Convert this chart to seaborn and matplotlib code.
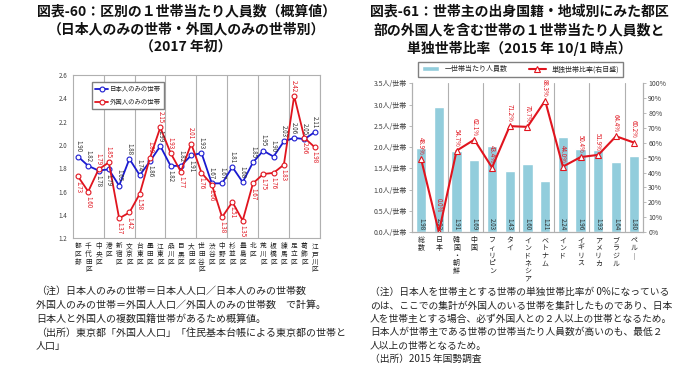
import numpy as np
import pandas as pd
import matplotlib
matplotlib.use('Agg')
import matplotlib.pyplot as plt
import seaborn as sns

sns.set_style('white')
plt.rcParams['font.family'] = ['Noto Sans CJK JP', 'DejaVu Sans']
plt.rcParams['axes.unicode_minus'] = False

# --- 図表-60 データ ---
wards = ['都区部', '千代田区', '中央区', '港区', '新宿区', '文京区', '台東区', '墨田区',
         '江東区', '品川区', '目黒区', '大田区', '世田谷区', '渋谷区', '中野区', '杉並区',
         '豊島区', '北区', '荒川区', '板橋区', '練馬区', '足立区', '葛飾区', '江戸川区']
jp_only = [1.90, 1.82, 1.78, 1.79, 1.65, 1.88, 1.74, 1.86, 1.99, 1.82, 1.82, 1.91,
           1.93, 1.67, 1.67, 1.81, 1.68, 1.85, 1.95, 1.90, 2.03, 2.06, 2.05, 2.11]
fr_only = [1.73, 1.60, 1.79, 1.85, 1.37, 1.42, 1.58, 1.89, 2.15, 1.93, 1.77, 2.01,
           1.76, 1.66, 1.38, 1.51, 1.35, 1.67, 1.75, 1.76, 1.83, 2.42, 2.06, 1.98]
jp_label_below = [2, 3, 7, 9, 11]
fr_label_above = [2, 3, 7, 8, 9, 11, 21]

# --- 図表-61 データ ---
countries = ['総数', '日本', '韓国・朝鮮', '中国', 'フィリピン', 'タイ', 'インドネシア',
             'ベトナム', 'インド', 'イギリス', 'アメリカ', 'ブラジル', 'ペルー']
persons = [1.98, 2.93, 1.91, 1.69, 2.03, 1.43, 1.60, 1.21, 2.24, 1.96, 1.93, 1.64, 1.80]
single_ratio = [48.9, 0.0, 54.7, 62.1, 43.4, 71.2, 70.7, 88.3, 44.0, 50.4, 51.9, 64.4, 60.2]

BLUE = '#1a1ad0'
RED = '#e0141e'
BAR = '#92cddc'
GRID = '#b0b0b0'
TXT = '#404040'

fig = plt.figure(figsize=(7, 3.75), dpi=100)

# ================= 左: 図表-60 =================
ax1 = fig.add_axes([0.104, 0.365, 0.353, 0.435])
df1 = pd.DataFrame({'x': np.arange(len(wards)), 'jp': jp_only, 'fr': fr_only})
sns.lineplot(data=df1, x='x', y='jp', ax=ax1, color=BLUE, lw=1.3, marker='o',
             markersize=3.5, markerfacecolor='white', markeredgecolor=BLUE,
             markeredgewidth=0.8, label='日本人のみの世帯')
sns.lineplot(data=df1, x='x', y='fr', ax=ax1, color=RED, lw=1.3, marker='o',
             markersize=3.5, markerfacecolor='white', markeredgecolor=RED,
             markeredgewidth=0.8, label='外国人のみの世帯')

for i, (a, b) in enumerate(zip(jp_only, fr_only)):
    below = i in jp_label_below
    ax1.annotate(f'{a:.2f}', (i, a), xytext=(0, -3 if below else 3), textcoords='offset points',
                 rotation=-90, ha='center', va='top' if below else 'bottom',
                 fontsize=4.5, color='#303030')
    above = i in fr_label_above
    ax1.annotate(f'{b:.2f}', (i, b), xytext=(0, 3 if above else -3), textcoords='offset points',
                 rotation=-90, ha='center', va='bottom' if above else 'top',
                 fontsize=4.5, color=RED)

for k in range(3, 25, 3):
    ax1.axvline(k - 0.5, color=GRID, lw=0.8, zorder=0)

ax1.set_xlim(-0.5, len(wards) - 0.5)
ax1.set_ylim(1.2, 2.6)
ax1.set_yticks(np.arange(1.2, 2.61, 0.2))
ax1.set_yticklabels([f'{v:.1f}' for v in np.arange(1.2, 2.61, 0.2)], fontsize=4.5, color=TXT)
ax1.set_xticks(np.arange(len(wards)))
ax1.set_xticklabels(['\n'.join(w) for w in wards], fontsize=4.8, linespacing=0.95, color='#202020')
ax1.tick_params(axis='x', length=0, pad=3)
ax1.tick_params(axis='y', length=2, width=0.6, color=GRID, pad=2)
ax1.set_xlabel('')
ax1.set_ylabel('')
for s in ax1.spines.values():
    s.set_color(GRID)
    s.set_linewidth(0.8)
ax1.legend(loc='upper left', bbox_to_anchor=(0.065, 0.975), fontsize=4.6, frameon=True,
           fancybox=False, edgecolor='#808080', framealpha=1, handlelength=2.0,
           handletextpad=0.3, borderpad=0.5, labelspacing=0.7)

# ================= 右: 図表-61 =================
ax2 = fig.add_axes([0.589, 0.381, 0.329, 0.397])
df2 = pd.DataFrame({'country': countries, 'persons': persons, 'ratio': single_ratio})
sns.barplot(data=df2, x='country', y='persons', ax=ax2, color=BAR, saturation=1,
            width=0.58, label='一世帯当たり人員数', zorder=2)
for i, v in enumerate(persons):
    ax2.text(i, 0.04, f'{v:.2f}', rotation=-90, ha='center', va='bottom',
             fontsize=4.5, color='#303030', zorder=3)
for k in range(2, 13, 2):
    ax2.axvline(k - 0.5, color=GRID, lw=0.8, zorder=0)

ax2.set_xlim(-0.5, len(countries) - 0.5)
ax2.set_ylim(0, 3.5)
yt = np.arange(0, 3.51, 0.5)
ax2.set_yticks(yt)
ax2.set_yticklabels([f'{v:.1f}人/世帯' for v in yt], fontsize=5, color=TXT)
ax2.set_xticks(np.arange(len(countries)))
ax2.set_xticklabels(['\n'.join(c.replace('ー', '｜')) for c in countries], fontsize=5,
                    linespacing=0.95, color='#202020')
ax2.tick_params(axis='x', length=0, pad=3)
ax2.tick_params(axis='y', length=2, width=0.6, color=GRID, pad=2)
ax2.set_xlabel('')
ax2.set_ylabel('')

ax3 = ax2.twinx()
sns.lineplot(data=df2, x=np.arange(len(countries)), y='ratio', ax=ax3, color=RED, lw=1.5,
             marker='^', markersize=4, markerfacecolor='white', markeredgecolor=RED,
             markeredgewidth=0.8, label='単独世帯比率(右目盛)')
for i, v in enumerate(single_ratio):
    # 日本(0.0%)のラベルは棒のラベルと重ならないよう少し上へ
    off = 14 if v == 0 else 3
    ax3.annotate(f'{v:.1f}%', (i, v), xytext=(0, off), textcoords='offset points',
                 rotation=-90, ha='center', va='bottom', fontsize=4.5, color=RED)
ax3.set_ylim(0, 100)
ax3.set_yticks(np.arange(0, 101, 10))
ax3.set_yticklabels([f'{v}%' for v in range(0, 101, 10)], fontsize=5, color=TXT)
ax3.tick_params(axis='y', length=2, width=0.6, color=GRID, pad=2)
ax3.set_ylabel('')
for a in (ax2, ax3):
    for s in a.spines.values():
        s.set_color(GRID)
        s.set_linewidth(0.8)
    a.spines['top'].set_visible(False)

h1, l1 = ax2.get_legend_handles_labels()
h2, l2 = ax3.get_legend_handles_labels()
if ax3.get_legend():
    ax3.get_legend().remove()
ax2.legend(h1 + h2, l1 + l2, loc='lower center', bbox_to_anchor=(0.47, 1.02), ncol=2,
           fontsize=5, frameon=True, fancybox=False, edgecolor='#808080', framealpha=1,
           handlelength=2.5, columnspacing=3, borderpad=0.5)

# ================= タイトル =================
left_title = ['図表-60：区別の１世帯当たり人員数（概算値）',
              '（日本人のみの世帯・外国人のみの世帯別）',
              '（2017 年初）']
for t, y in zip(left_title, [11.7, 29.3, 46.7]):
    fig.text(186 / 700, 1 - y / 375, t, ha='center', va='center', fontsize=10,
             fontweight='bold', color='#111111')
right_title = ['図表-61：世帯主の出身国籍・地域別にみた都区',
               '部の外国人を含む世帯の１世帯当たり人員数と',
               '単独世帯比率（2015 年 10/1 時点）']
for t, y in zip(right_title, [11.7, 30.7, 48.3]):
    fig.text(519 / 700, 1 - y / 375, t, ha='center', va='center', fontsize=10,
             fontweight='bold', color='#111111')

# ================= 注記 =================
left_notes = ['（注）日本人のみの世帯＝日本人人口／日本人のみの世帯数',
              '外国人のみの世帯＝外国人人口／外国人のみの世帯数　で計算。',
              '日本人と外国人の複数国籍世帯があるため概算値。',
              '（出所）東京都「外国人人口」「住民基本台帳による東京都の世帯と',
              '人口」']
for t, y in zip(left_notes, [290.7, 305, 318.5, 332.5, 346]):
    fig.text(36 / 700, 1 - y / 375, t, ha='left', va='center', fontsize=7.2, color='#222222')
right_notes = ['（注）日本人を世帯主とする世帯の単独世帯比率が 0%になっている',
               'のは、ここでの集計が外国人のいる世帯を集計したものであり、日本',
               '人を世帯主とする場合、必ず外国人との２人以上の世帯となるため。',
               '日本人が世帯主である世帯の世帯当たり人員数が高いのも、最低２',
               '人以上の世帯となるため。',
               '（出所）2015 年国勢調査']
for t, y in zip(right_notes, [292, 305.5, 319, 332.5, 345.5, 359]):
    fig.text(370 / 700, 1 - y / 375, t, ha='left', va='center', fontsize=7.0, color='#222222')

fig.savefig('out.png', dpi=100)
